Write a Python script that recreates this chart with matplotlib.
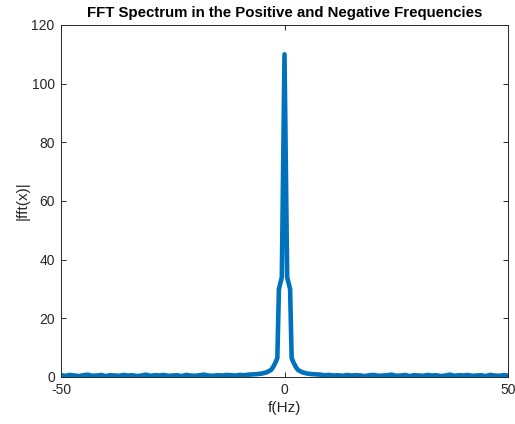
import numpy as np
from matplotlib import pyplot as plt

# Spectrum: noisy floor on both sides, sharp peak at 0 Hz
freq_left = np.arange(-50, -7)
noise_left = [0.6, 0.4, 0.7, 0.5, 0.3, 0.6, 0.8, 0.4, 0.5, 0.7, 0.3, 0.6, 0.5, 0.4,
              0.7, 0.5, 0.6, 0.3, 0.5, 0.8, 0.4, 0.6, 0.5, 0.7, 0.4, 0.5, 0.6, 0.3,
              0.7, 0.5, 0.4, 0.6, 0.8, 0.5, 0.4, 0.6, 0.5, 0.7, 0.6, 0.5, 0.7, 0.6, 0.8]

core_freq = [-7, -6, -5, -4, -3, -2.5, -2, -1.6, -1.25, -0.6, 0,
             0.6, 1.25, 1.6, 2, 2.5, 3, 4, 5, 6, 7]
core_mag = [0.9, 1.0, 1.2, 1.6, 2.4, 3.5, 5.0, 6.5, 30, 34, 110,
            34, 30, 6.5, 5.0, 3.5, 2.4, 1.6, 1.2, 1.0, 0.9]

freq_right = np.arange(8, 51)
noise_right = [0.8, 0.6, 0.7, 0.5, 0.6, 0.4, 0.7, 0.5, 0.6, 0.5, 0.3, 0.6, 0.7, 0.4,
               0.5, 0.6, 0.8, 0.4, 0.5, 0.7, 0.3, 0.6, 0.5, 0.4, 0.7, 0.5, 0.6, 0.3,
               0.5, 0.8, 0.4, 0.6, 0.5, 0.7, 0.4, 0.5, 0.6, 0.3, 0.7, 0.5, 0.4, 0.6, 0.5]

freq = np.concatenate([freq_left, core_freq, freq_right])
mag = np.concatenate([noise_left, core_mag, noise_right])

plt.rcParams['font.family'] = ['Liberation Sans', 'DejaVu Sans']
plt.rcParams['axes.unicode_minus'] = False
axis_grey = (0.15, 0.15, 0.15)

fig = plt.figure(figsize=(5.15, 4.24), dpi=100)
ax = fig.add_axes([61 / 515, 47 / 424, 447 / 515, 352 / 424])

ax.plot(freq, mag, color=(0, 0.447, 0.741), linewidth=3.3, solid_joinstyle='round')

ax.set_xlim(-50, 50)
ax.set_ylim(0, 120)
ax.set_xticks([-50, 0, 50])
ax.set_yticks(np.arange(0, 121, 20))

ax.set_title("FFT Spectrum in the Positive and Negative Frequencies",
             fontsize=10.8, fontweight='bold', color='black', pad=6)
ax.set_xlabel("f(Hz)", fontsize=11, color=axis_grey, labelpad=3)
ax.set_ylabel("|fft(x)|", fontsize=11, color=axis_grey, labelpad=1)

ax.tick_params(axis='both', direction='in', length=3.6, width=0.7, labelsize=10,
               colors=axis_grey, top=True, right=True, pad=4.5)
for spine in ax.spines.values():
    spine.set_color(axis_grey)
    spine.set_linewidth(0.7)

fig.savefig('out.png', dpi=100)
